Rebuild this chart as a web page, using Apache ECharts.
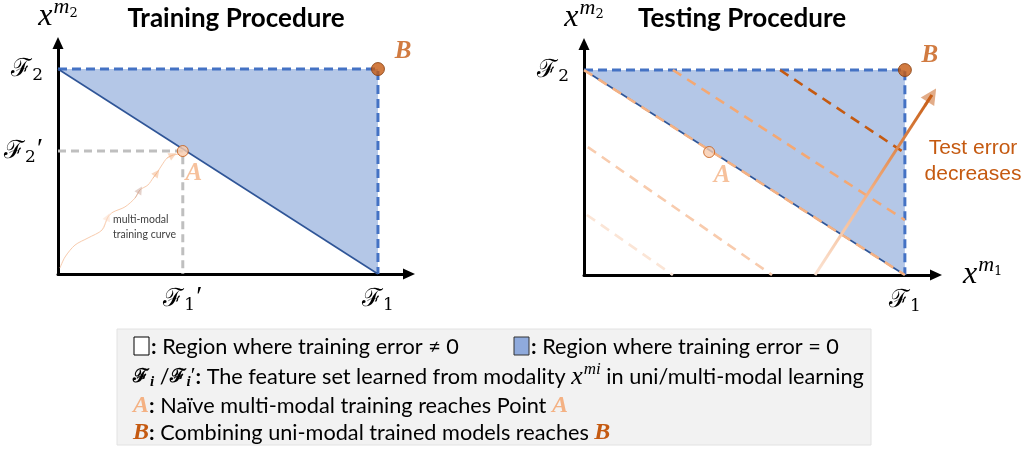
<!DOCTYPE html>
<html><head><meta charset="utf-8">
<script src="https://cdn.jsdelivr.net/npm/echarts@6/dist/echarts.min.js"></script>
<style>html,body{margin:0;padding:0;background:#fff}#c{width:1024px;height:449px}</style>
</head><body><div id="c"></div>
<script>
// ---------------- data (normalised feature space: F1 = 1, F2 = 1) ----------------
const frontier = [[0, 1], [1, 0]];                       // boundary training error = 0
const zeroErrorRegion = [[0, 1], [1, 1], [1, 0]];        // region where training error = 0
const zeroErrorBorder = [[0, 1], [1, 1], [1, 0]];
const pointA = [0.39, 0.6];
const pointB = [1, 1];
const trainingCurve = [
  [0.006, 0.029], [0.022, 0.083], [0.053, 0.141], [0.094, 0.176], [0.138, 0.215],
  [0.156, 0.278], [0.172, 0.302], [0.209, 0.327], [0.241, 0.371], [0.256, 0.410],
  [0.281, 0.434], [0.297, 0.468], [0.309, 0.493], [0.325, 0.532], [0.341, 0.566],
  [0.359, 0.580], [0.381, 0.585]
];
const curveArrowAt = [5, 9, 12, 15];
const testContours = [
  [[0.611, 1], [1, 0.595]],
  [[0.277, 1], [1, 0.268]],
  [[0, 1], [1, 0]],
  [[0.012, 0.624], [0.586, 0]],
  [[0.009, 0.293], [0.277, 0]]
];
const testArrow = [[0.72, 0], [1.084, 0.878]];
const leftXTicks = [{ v: pointA[0], sub: '1', prime: true }, { v: 1, sub: '1', prime: false }];
const leftYTicks = [{ v: pointA[1], sub: '2', prime: true }, { v: 1, sub: '2', prime: false }];
const rightXTicks = [{ v: 1, sub: '1', prime: false }];
const rightYTicks = [{ v: 1, sub: '2', prime: false }];

// ---------------- styles ----------------
const XMAX = 1.097, YMAX = 1.127;
const contourColors = ['#c55a11', '#f4a873', '#f4b183', '#f8cbad', '#fbe5d6'];
const curveArrowColors = ['#fbd9c4', '#c9a496', '#f4b183', '#f4b183'];

const mathRich = {
  F: { fontFamily: 'DejaVu Serif', fontSize: 25, color: '#000' },
  s: { fontFamily: 'DejaVu Serif', fontSize: 17, color: '#000', padding: [13, 0, 0, 0] },
  p: { fontFamily: 'Liberation Serif', fontSize: 28, color: '#000', padding: [0, 0, 2, 1] },
  x: { fontFamily: 'Liberation Serif', fontStyle: 'italic', fontSize: 32, color: '#000' },
  m: { fontFamily: 'Liberation Serif', fontStyle: 'italic', fontSize: 22, color: '#000', padding: [0, 0, 20, 1] },
  ms: { fontFamily: 'DejaVu Serif', fontSize: 13, color: '#000', padding: [0, 0, 6, 0] }
};

function fmtTicks(ticks) {
  return function (v) {
    const t = ticks.find(t => Math.abs(t.v - v) < 1e-6);
    if (!t) return '';
    return '{F|ℱ}{s|' + t.sub + '}' + (t.prime ? '{p|′}' : '');
  };
}

function xAxisFor(gi, ticks, name) {
  return {
    type: 'value', gridIndex: gi, min: 0, max: XMAX,
    axisLine: { show: true, onZero: false, symbol: ['none', 'triangle'], symbolSize: [11, 12],
      lineStyle: { color: '#000', width: 3 } },
    axisTick: { show: false }, splitLine: { show: false },
    axisLabel: { show: true, customValues: ticks.map(t => t.v), formatter: fmtTicks(ticks),
      margin: 10, rich: mathRich, hideOverlap: false },
    name: name || '', nameLocation: 'end', nameGap: 27,
    nameTextStyle: { rich: mathRich, align: 'left', verticalAlign: 'middle' }
  };
}
function yAxisFor(gi, ticks) {
  return {
    type: 'value', gridIndex: gi, min: 0, max: YMAX,
    axisLine: { show: true, onZero: false, symbol: ['none', 'triangle'], symbolSize: [11, 12],
      lineStyle: { color: '#000', width: 3 } },
    axisTick: { show: false }, splitLine: { show: false },
    axisLabel: { show: true, customValues: ticks.map(t => t.v), formatter: fmtTicks(ticks),
      margin: 15, rich: mathRich, hideOverlap: false },
    name: '{x|x}{m|m}{ms|2}', nameLocation: 'end', nameGap: 5,
    nameTextStyle: { rich: mathRich, align: 'center', verticalAlign: 'bottom' }
  };
}

function polygonSeries(gi, pts, fill) {
  return {
    type: 'custom', xAxisIndex: gi, yAxisIndex: gi, data: pts, encode: { x: 0, y: 1 }, silent: true, z: 1,
    renderItem: function (params, api) {
      if (params.dataIndex !== 0) return null;
      return { type: 'polygon', shape: { points: pts.map(p => api.coord(p)) }, style: { fill: fill } };
    }
  };
}
function lineSeries(gi, data, color, width, dash, extra) {
  return Object.assign({
    type: 'line', xAxisIndex: gi, yAxisIndex: gi, data: data, symbol: 'none', silent: true,
    lineStyle: { color: color, width: width, type: dash ? dash : 'solid' }, z: 3
  }, extra || {});
}

const series = [];
// ----- left panel (training) -----
series.push(polygonSeries(0, zeroErrorRegion, '#b4c7e7'));
series.push(lineSeries(0, zeroErrorBorder, '#4472c4', 3, [9, 5]));
series.push(lineSeries(0, frontier, '#2f5597', 1.6));
series.push(lineSeries(0, [[0, pointA[1]], pointA, [pointA[0], 0]], '#bfbfbf', 3, [8, 5]));
series.push(lineSeries(0, trainingCurve, '#f8cbad', 1, null, { smooth: 0.3 }));
series.push({
  type: 'lines', coordinateSystem: 'cartesian2d', xAxisIndex: 0, yAxisIndex: 0, silent: true, z: 4,
  symbol: ['none', 'triangle'], symbolSize: 8,
  data: curveArrowAt.map((i, k) => ({ coords: [trainingCurve[i - 1], trainingCurve[i]],
    lineStyle: { color: curveArrowColors[k], width: 1 } }))
});
series.push({
  type: 'scatter', xAxisIndex: 0, yAxisIndex: 0, data: [pointB], symbolSize: 13, z: 6,
  itemStyle: { color: '#c55a11', borderColor: '#843c0c', borderWidth: 1 },
  label: { show: true, position: 'inside', offset: [25, -17], formatter: 'B', fontFamily: 'Liberation Serif',
    fontStyle: 'italic', fontWeight: 'bold', fontSize: 25, color: '#c55a11' }
});
series.push({
  type: 'scatter', xAxisIndex: 0, yAxisIndex: 0, data: [pointA], symbolSize: 11, z: 6,
  itemStyle: { color: '#f8cbad', borderColor: '#c55a11', borderWidth: 1 },
  label: { show: true, position: 'inside', offset: [11, 23], formatter: 'A', fontFamily: 'Liberation Serif',
    fontStyle: 'italic', fontWeight: 'bold', fontSize: 25, color: '#f4b183' }
});
// ----- right panel (testing) -----
series.push(polygonSeries(1, zeroErrorRegion, '#b4c7e7'));
series.push(lineSeries(1, zeroErrorBorder, '#4472c4', 3, [9, 5]));
series.push(lineSeries(1, frontier, '#2f5597', 1.6));
testContours.forEach((c, k) => series.push(lineSeries(1, c, contourColors[k], 2.6, [10, 7], { z: 4 })));
series.push(lineSeries(1, testArrow, new echarts.graphic.LinearGradient(0, 1, 0, 0, [
  { offset: 0, color: '#fbe5d6' }, { offset: 0.45, color: '#f4b183' }, { offset: 1, color: '#c55a11' }]), 3, null, { z: 5 }));
series.push({
  type: 'lines', coordinateSystem: 'cartesian2d', xAxisIndex: 1, yAxisIndex: 1, silent: true, z: 5,
  symbol: ['none', 'triangle'], symbolSize: [14, 16],
  data: [{ coords: [[testArrow[1][0] - 0.06 * (testArrow[1][0] - testArrow[0][0]), testArrow[1][1] - 0.06 * (testArrow[1][1] - testArrow[0][1])], testArrow[1]],
    lineStyle: { color: '#c55a11', width: 3 } }]
});
series.push({
  type: 'scatter', xAxisIndex: 1, yAxisIndex: 1, data: [pointB], symbolSize: 13, z: 6,
  itemStyle: { color: '#c55a11', borderColor: '#843c0c', borderWidth: 1 },
  label: { show: true, position: 'inside', offset: [25, -14], formatter: 'B', fontFamily: 'Liberation Serif',
    fontStyle: 'italic', fontWeight: 'bold', fontSize: 25, color: '#c55a11' }
});
series.push({
  type: 'scatter', xAxisIndex: 1, yAxisIndex: 1, data: [pointA], symbolSize: 11, z: 6,
  itemStyle: { color: '#f8cbad', borderColor: '#c55a11', borderWidth: 1 },
  label: { show: true, position: 'inside', offset: [13, 24], formatter: 'A', fontFamily: 'Liberation Serif',
    fontStyle: 'italic', fontWeight: 'bold', fontSize: 25, color: '#f4b183' }
});

const LF = 21.7;
const legendRich = {
  b: { fontFamily: 'Lato', fontSize: LF, fontWeight: 'bold', fill: '#000' },
  F: { fontFamily: 'DejaVu Serif', fontSize: 19, fontWeight: 'bold', fill: '#000' },
  i: { fontFamily: 'Liberation Serif', fontStyle: 'italic', fontWeight: 'bold', fontSize: 15, fill: '#000', padding: [10, 0, 0, 1] },
  p: { fontFamily: 'Liberation Serif', fontSize: 22, fill: '#000', padding: [0, 0, 2, 0] },
  x: { fontFamily: 'Liberation Serif', fontStyle: 'italic', fontSize: 26, fill: '#000' },
  m: { fontFamily: 'Liberation Serif', fontStyle: 'italic', fontSize: 17, fill: '#000', padding: [0, 0, 14, 1] },
  mi: { fontFamily: 'Liberation Serif', fontStyle: 'italic', fontSize: 17, fill: '#000', padding: [0, 0, 14, 0] },
  A: { fontFamily: 'Liberation Serif', fontStyle: 'italic', fontWeight: 'bold', fontSize: 24, fill: '#f4b183' },
  B: { fontFamily: 'Liberation Serif', fontStyle: 'italic', fontWeight: 'bold', fontSize: 24, fill: '#c55a11' }
};
function ltext(x, y, text) {
  return { type: 'text', x: x, y: y, z: 20, silent: true,
    style: { text: text, fontFamily: 'Lato', fontSize: LF, fill: '#000', verticalAlign: 'middle', align: 'left', rich: legendRich } };
}

const graphic = [
  { type: 'text', x: 236, y: 19, style: { text: 'Training Procedure', fontFamily: 'Lato', fontWeight: 'bold', fontSize: 26, fill: '#000', align: 'center', verticalAlign: 'middle' } },
  { type: 'text', x: 742, y: 19, style: { text: 'Testing Procedure', fontFamily: 'Lato', fontWeight: 'bold', fontSize: 26, fill: '#000', align: 'center', verticalAlign: 'middle' } },
  { type: 'text', x: 973, y: 161, style: { text: 'Test error\ndecreases', fontFamily: 'Liberation Sans', fontSize: 21, lineHeight: 26, fill: '#c55a11', align: 'center', verticalAlign: 'middle' } },
  { type: 'text', x: 113, y: 227, style: { text: 'multi-modal\ntraining curve', fontFamily: 'Lato', fontSize: 10.5, lineHeight: 15, fill: '#404040', align: 'left', verticalAlign: 'middle' } },
  { type: 'rect', shape: { x: 117, y: 329, width: 754, height: 116 }, style: { fill: '#f2f2f2', stroke: '#e2e2e2', lineWidth: 1 }, z: 10 },
  { type: 'rect', shape: { x: 134, y: 337, width: 15, height: 18 }, style: { fill: '#fff', stroke: '#000', lineWidth: 1 }, z: 20 },
  { type: 'rect', shape: { x: 514, y: 337, width: 15, height: 18 }, style: { fill: '#8faadc', stroke: '#333', lineWidth: 1 }, z: 20 },
  ltext(151, 347, '{b|:} Region where training error ≠ 0'),
  ltext(531, 347, '{b|:} Region where training error = 0'),
  ltext(133, 377, '{F|ℱ}{i|i} /{F|ℱ}{i|i}{p|′}{b|:} The feature set learned from modality {x|x}{m|m}{mi|i} in uni/multi-modal learning'),
  ltext(133, 406, '{A|A}{b|:} Naïve multi-modal training reaches Point {A|A}'),
  ltext(133, 433, '{B|B}{b|:} Combining uni-modal trained models reaches {B|B}')
];

const chart = echarts.init(document.getElementById('c'), null, { renderer: 'canvas' });
chart.setOption({
  animation: false,
  backgroundColor: '#fff',
  grid: [
    { left: 58, top: 43, width: 351, height: 231, outerBoundsMode: 'none', containLabel: false },
    { left: 584, top: 44, width: 352, height: 231, outerBoundsMode: 'none', containLabel: false }
  ],
  xAxis: [xAxisFor(0, leftXTicks), xAxisFor(1, rightXTicks, '{x|x}{m|m}{ms|1}')],
  yAxis: [yAxisFor(0, leftYTicks), yAxisFor(1, rightYTicks)],
  series: series,
  graphic: graphic
});
</script></body></html>
